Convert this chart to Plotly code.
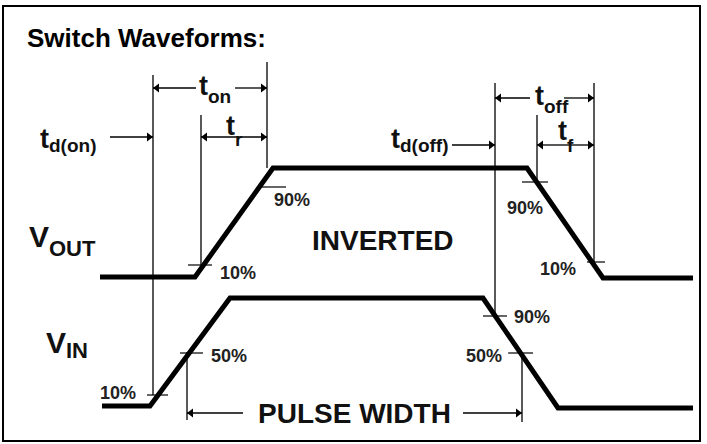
import plotly.graph_objects as go

# ---- waveform data (pixel-space diagram coordinates, y grows downward) ----
vout_x = [100, 195, 273, 527, 603, 693]
vout_y = [277, 277, 168, 168, 278, 278]
vin_x = [102, 150, 230, 483, 558, 693]
vin_y = [406, 406, 298, 298, 408, 408]

# vertical timing reference lines
vline_x = [153, 201, 267, 495, 537, 594, 522, 187]
vline_top = [75, 115, 62, 83, 115, 83, 353, 352]
vline_bot = [395, 265, 168, 316, 183, 263, 422, 420]

# short horizontal level ticks (x0, x1, y)
tick_x0 = [188, 261, 522, 587, 147, 180, 483, 508]
tick_x1 = [212, 286, 548, 605, 168, 203, 507, 533]
tick_y = [265, 187, 182, 262, 395, 353, 316, 353]

# percentage labels
pct_text = ["10%", "90%", "90%", "10%", "10%", "50%", "90%", "50%"]
pct_x = [238, 292, 525, 558, 118, 229, 532, 484]
pct_y = [273, 200, 208, 269, 393, 356, 317, 356]

# dimension arrows: head (x, y), tail (x, y)
arr_hx = [153, 267, 153, 201, 267, 495, 594, 495, 537, 594, 187, 522]
arr_hy = [88, 88, 137, 137, 137, 98, 98, 145, 145, 145, 413, 413]
arr_tx = [196, 235, 110, 234, 234, 530, 564, 452, 566, 566, 243, 463]
arr_ty = [88, 88, 137, 137, 137, 98, 98, 145, 145, 145, 413, 413]

# timing labels: main letter + subscript (left x, baseline y)
tlab_main = ["t", "t", "t", "t", "t", "t"]
tlab_sub = ["on", "d(on)", "r", "off", "d(off)", "f"]
tlab_x = [197, 38, 224, 533, 389, 556]
tlab_base = [95, 148, 135, 105, 148, 140]
tsub_x = [206, 47, 233, 542, 398, 565]
tsub_base = [103, 152, 146, 113, 152, 152]

# signal labels: main letter + subscript
sig_main = ["V", "V"]
sig_sub = ["OUT", "IN"]
sig_x = [27, 44]
sig_base = [247, 353]
ssub_x = [47, 64]
ssub_base = [256, 358]

# big labels
big_text = ["INVERTED", "PULSE WIDTH"]
big_x = [383, 354]
big_y = [240, 413]

title_text = "Switch Waveforms:"

FONT = "Liberation Sans, Arial, sans-serif"


def label(fig, text, x, y, size, xanchor="left", color="#111"):
    fig.add_annotation(x=x, y=y, text=text, showarrow=False,
                       xref="x", yref="y", xanchor=xanchor, yanchor="middle",
                       font=dict(family=FONT, size=size, color=color, weight="bold"))


fig = go.Figure()

# waveforms
fig.add_trace(go.Scatter(x=vout_x, y=vout_y, mode="lines",
                         line=dict(color="black", width=5), hoverinfo="skip"))
fig.add_trace(go.Scatter(x=vin_x, y=vin_y, mode="lines",
                         line=dict(color="black", width=5), hoverinfo="skip"))

# vertical lines
vx, vy = [], []
for x, t, b in zip(vline_x, vline_top, vline_bot):
    vx += [x, x, None]
    vy += [t, b, None]
fig.add_trace(go.Scatter(x=vx, y=vy, mode="lines",
                         line=dict(color="black", width=1.3), hoverinfo="skip"))

# level ticks
tx, ty = [], []
for a, b, y in zip(tick_x0, tick_x1, tick_y):
    tx += [a, b, None]
    ty += [y, y, None]
fig.add_trace(go.Scatter(x=tx, y=ty, mode="lines",
                         line=dict(color="black", width=1.2), hoverinfo="skip"))

# arrows: shafts + triangular heads
ax_, ay_ = [], []
hl_x, hl_y, hr_x, hr_y = [], [], [], []
for hx, hy, sx, sy in zip(arr_hx, arr_hy, arr_tx, arr_ty):
    ax_ += [sx, hx, None]
    ay_ += [sy, hy, None]
    if hx < sx:
        hl_x.append(hx + 4)
        hl_y.append(hy)
    else:
        hr_x.append(hx - 4)
        hr_y.append(hy)
fig.add_trace(go.Scatter(x=ax_, y=ay_, mode="lines",
                         line=dict(color="black", width=1.3), hoverinfo="skip"))
fig.add_trace(go.Scatter(x=hl_x, y=hl_y, mode="markers", hoverinfo="skip",
                         marker=dict(symbol="triangle-left", size=8, color="black")))
fig.add_trace(go.Scatter(x=hr_x, y=hr_y, mode="markers", hoverinfo="skip",
                         marker=dict(symbol="triangle-right", size=8, color="black")))

# percentage labels
for s, x, y in zip(pct_text, pct_x, pct_y):
    label(fig, s, x, y, 18, xanchor="center", color="#222")

# timing labels (centre = baseline - 0.35 * size)
T_MAIN, T_SUB = 27, 19
for m, s, x, b, sx, sb in zip(tlab_main, tlab_sub, tlab_x, tlab_base, tsub_x, tsub_base):
    label(fig, m, x, b - 0.35 * T_MAIN, T_MAIN)
    label(fig, s, sx, sb - 0.35 * T_SUB, T_SUB)

# signal labels
S_MAIN, S_SUB = 30, 22
for m, s, x, b, sx, sb in zip(sig_main, sig_sub, sig_x, sig_base, ssub_x, ssub_base):
    label(fig, m, x, b - 0.35 * S_MAIN, S_MAIN)
    label(fig, s, sx, sb - 0.35 * S_SUB, S_SUB)

# big labels
for s, x, y in zip(big_text, big_x, big_y):
    label(fig, s, x, y, 28, xanchor="center")

# title
label(fig, title_text, 25, 38, 26, color="black")

# outer border
fig.add_shape(type="rect", x0=3, y0=6, x1=700, y1=441, xref="x", yref="y",
              line=dict(color="black", width=2))

fig.update_layout(
    width=707, height=444, autosize=False,
    margin=dict(l=0, r=0, t=0, b=0),
    paper_bgcolor="white", plot_bgcolor="white",
    showlegend=False,
    xaxis=dict(range=[0, 707], visible=False, fixedrange=True),
    yaxis=dict(range=[444, 0], visible=False, fixedrange=True),
)

fig.write_html("out.html", config={"displayModeBar": False},
               post_script="document.body.style.margin='0';document.body.style.overflow='hidden';")
